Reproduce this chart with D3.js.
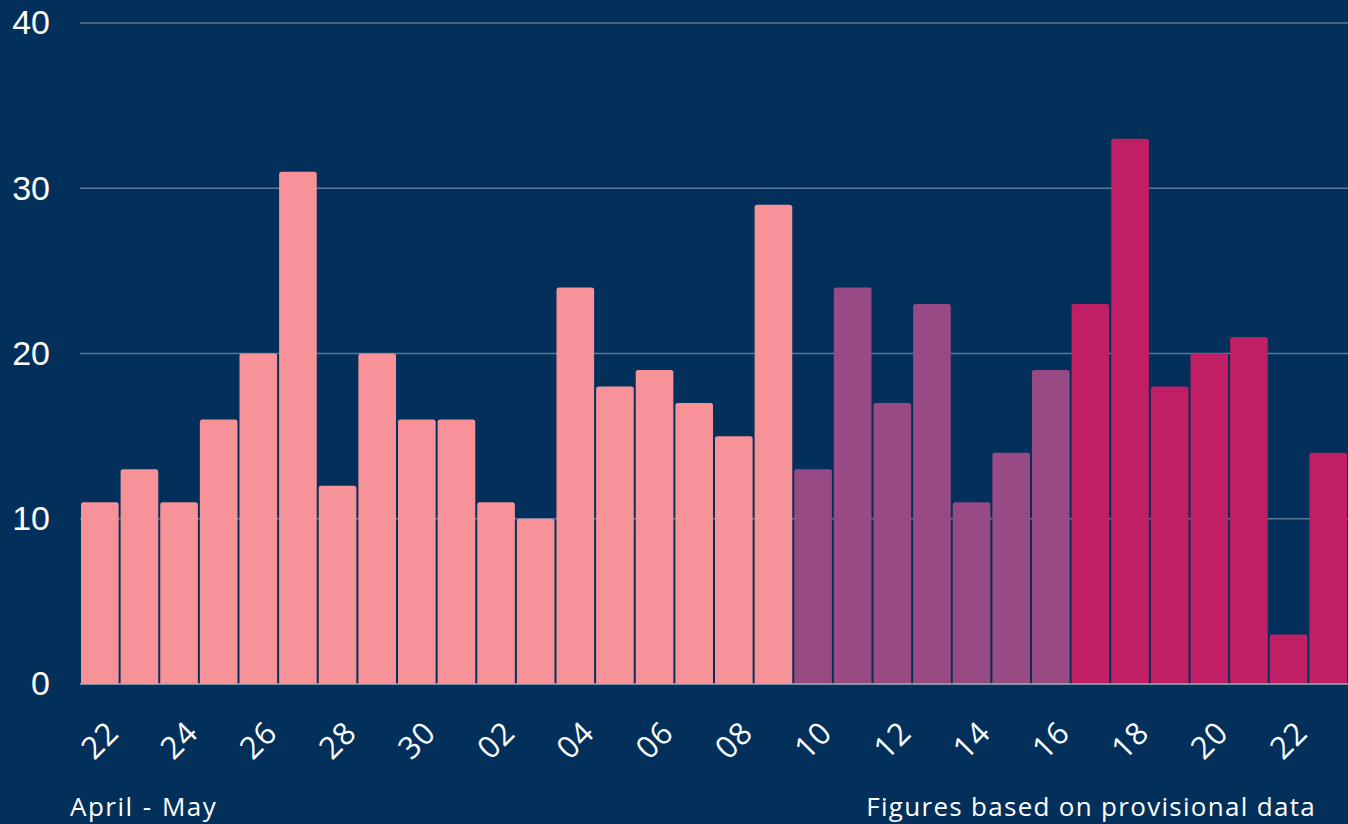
<!DOCTYPE html>
<html>
<head>
<meta charset="utf-8">
<script src="https://cdn.jsdelivr.net/npm/d3@7"></script>
<style>
  html, body { margin: 0; padding: 0; background: #03305a; }
  svg { display: block; }
</style>
</head>
<body>
<script>
// daily counts, 22 April - 23 May
var days = ["22","23","24","25","26","27","28","29","30",
            "01","02","03","04","05","06","07","08","09",
            "10","11","12","13","14","15","16",
            "17","18","19","20","21","22","23"];
var counts = [11,13,11,16,20,31,12,20,16,
              16,11,10,24,18,19,17,15,29,
              13,24,17,23,11,14,19,
              23,33,18,20,21,3,14];
// which colour group each bar belongs to
var groups = ["a","a","a","a","a","a","a","a","a",
              "a","a","a","a","a","a","a","a","a",
              "b","b","b","b","b","b","b",
              "c","c","c","c","c","c","c"];
var yTicks = [0, 10, 20, 30, 40];

var w = 1348, h = 824;

var svg = d3.select("body").append("svg")
  .attr("width", w)
  .attr("height", h);

svg.append("rect").attr("width", w).attr("height", h).attr("fill", "#03305a");

var idx = d3.range(days.length);

var x = d3.scaleBand()
  .domain(idx)
  .range([80, 1348])
  .paddingInner(0.05)
  .paddingOuter(0.025);

var y = d3.scaleLinear()
  .domain([0, 40])
  .range([684, 23]);

var color = d3.scaleOrdinal()
  .domain(["a","b","c"])
  .range(["#f79398", "#974a83", "#c01f66"]);

//grid lines
svg.append("g")
  .selectAll("line")
  .data(yTicks.slice(1))
  .enter().append("line")
    .attr("x1", 80).attr("x2", w)
    .attr("y1", d => y(d)).attr("y2", d => y(d))
    .attr("stroke", "#5b7896")
    .attr("stroke-width", 1.5);

//y labels
var yAxis = svg.append("g")
  .attr("transform", "translate(50,0)")
  .call(d3.axisLeft(y).tickValues(yTicks).tickSize(0).tickPadding(0));
yAxis.select(".domain").remove();
yAxis.selectAll("text")
  .attr("fill", "#ffffff")
  .style("font-family", "'Liberation Sans', Arial, sans-serif")
  .style("font-size", "34px");

//bars with slightly rounded tops
function barPath(i) {
  var x0 = x(i), bw = x.bandwidth(), y0 = y(counts[i]), yb = y(0), r = 2.5;
  return "M" + x0 + "," + yb +
    "V" + (y0 + r) +
    "Q" + x0 + "," + y0 + " " + (x0 + r) + "," + y0 +
    "H" + (x0 + bw - r) +
    "Q" + (x0 + bw) + "," + y0 + " " + (x0 + bw) + "," + (y0 + r) +
    "V" + yb + "Z";
}

svg.append("g")
  .selectAll("path")
  .data(idx)
  .enter().append("path")
    .attr("d", barPath)
    .attr("fill", i => color(groups[i]));

//baseline
svg.append("line")
  .attr("x1", 80).attr("x2", w)
  .attr("y1", y(0)).attr("y2", y(0))
  .attr("stroke", "#a3adba")
  .attr("stroke-width", 1.5);

//x labels, every other day
var xAxis = svg.append("g")
  .attr("transform", "translate(0,740)")
  .call(d3.axisBottom(x)
    .tickValues(idx.filter(i => i % 2 == 0))
    .tickFormat(i => days[i])
    .tickSize(0).tickPadding(0));
xAxis.select(".domain").remove();
xAxis.selectAll("text")
  .attr("y", 0)
  .attr("dy", "0.35em")
  .attr("text-anchor", "middle")
  .attr("transform", "rotate(-45)")
  .attr("fill", "#ffffff")
  .style("font-family", "'Open Sans', sans-serif")
  .style("font-size", "31px")
  .style("letter-spacing", "1px");

//footer notes
svg.append("text")
  .attr("x", 70).attr("y", 816)
  .attr("fill", "#ffffff")
  .style("font-family", "'Open Sans', sans-serif")
  .style("font-size", "26px")
  .style("letter-spacing", "1.5px")
  .style("word-spacing", "1px")
  .text("April - May");

svg.append("text")
  .attr("x", 1316).attr("y", 816)
  .attr("text-anchor", "end")
  .attr("fill", "#ffffff")
  .style("font-family", "'Open Sans', sans-serif")
  .style("font-size", "26px")
  .style("letter-spacing", "1.3px")
  .style("word-spacing", "0px")
  .text("Figures based on provisional data");
</script>
</body>
</html>
